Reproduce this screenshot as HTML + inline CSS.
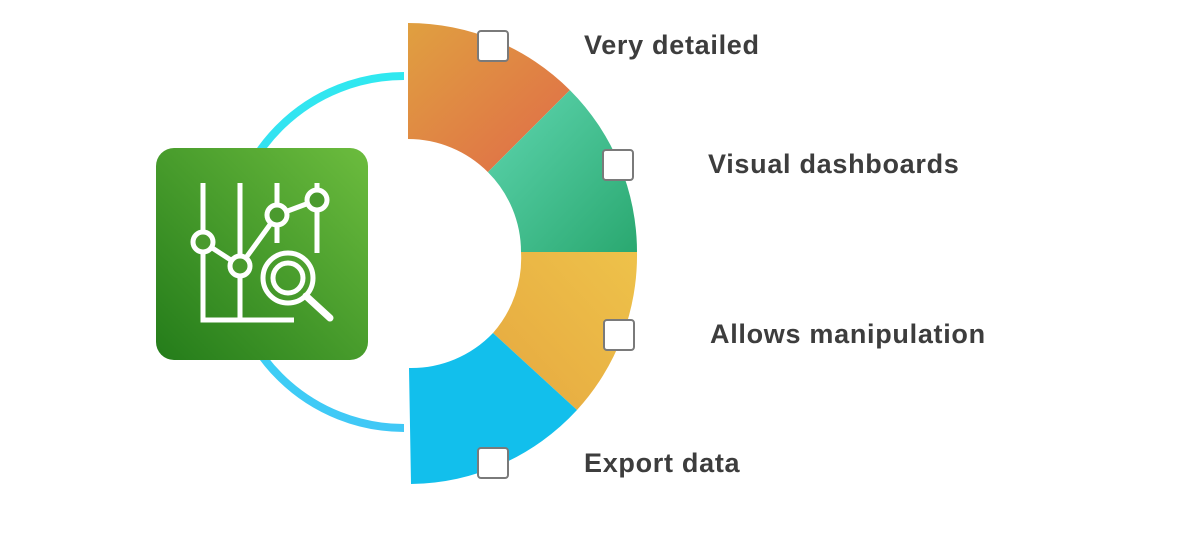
<!DOCTYPE html>
<html><head><meta charset="utf-8"><style>
body{margin:0;width:1186px;height:558px;background:#fff;overflow:hidden;position:relative;font-family:"Liberation Sans",sans-serif}
.t{position:absolute;font-weight:bold;font-size:27px;letter-spacing:0.7px;color:#3d3d3d;white-space:nowrap}
.cb{position:absolute;width:32px;height:32px;border:2px solid #7a7a7a;border-radius:4px;background:#fff;box-sizing:border-box}
</style></head><body>
<svg width="1186" height="558" style="position:absolute;left:0;top:0">
<defs>
<linearGradient id="g1" x1="0" y1="0" x2="1" y2="1"><stop offset="0" stop-color="#e0a040"/><stop offset="1" stop-color="#e06a48"/></linearGradient>
<linearGradient id="g2" x1="0" y1="0" x2="1" y2="1"><stop offset="0" stop-color="#5fd6b0"/><stop offset="1" stop-color="#2aa870"/></linearGradient>
<linearGradient id="g3" x1="1" y1="0" x2="0" y2="1"><stop offset="0" stop-color="#eec24a"/><stop offset="1" stop-color="#e6a840"/></linearGradient>
<linearGradient id="gc" x1="0" y1="0" x2="0" y2="1"><stop offset="0" stop-color="#30e8f0"/><stop offset="1" stop-color="#40c8f6"/></linearGradient>
<linearGradient id="gg" x1="1" y1="0" x2="0" y2="1"><stop offset="0" stop-color="#6cbc3e"/><stop offset="1" stop-color="#247c1a"/></linearGradient>
</defs>
<path d="M404,76 A176 176 0 0 0 404,428" fill="none" stroke="url(#gc)" stroke-width="8"/>
<path d="M408,23 A229 229 0 0 1 569.9,90.1 L487.9,172.1 A113 113 0 0 0 408,139 Z" fill="url(#g1)"/>
<path d="M569.9,90.1 A229 229 0 0 1 637,252 L521,252 A113 113 0 0 0 487.9,172.1 Z" fill="url(#g2)"/>
<path d="M637,252 A229 229 0 0 1 577,410 L493,333 A113 113 0 0 0 521,252 Z" fill="url(#g3)"/>
<path d="M577,410 A229 229 0 0 1 411,484 L409,368 A113 113 0 0 0 493,333 Z" fill="#12bfec"/>
<rect x="156" y="148" width="212" height="212" rx="18" fill="url(#gg)"/>
<g fill="none" stroke="#fff" stroke-width="5">
<path d="M203,183 V320 H294"/>
<path d="M240,183 V320"/>
<path d="M277,183 V243"/>
<path d="M317,183 V253"/>
<path d="M203,242 L240,266 L277,215 L317,200"/>
<circle cx="288" cy="278" r="25"/>
<circle cx="288" cy="278" r="15"/>
<path d="M306,296 L330,318" stroke-width="7" stroke-linecap="round"/>
</g>
<g fill="#4a9a2e" stroke="#fff" stroke-width="5">
<circle cx="203" cy="242" r="10"/><circle cx="240" cy="266" r="10"/><circle cx="277" cy="215" r="10"/><circle cx="317" cy="200" r="10"/>
</g>
</svg>
<div class="cb" style="left:477px;top:30px"></div>
<div class="cb" style="left:602px;top:149px"></div>
<div class="cb" style="left:603px;top:319px"></div>
<div class="cb" style="left:477px;top:447px"></div>
<div class="t" style="left:584px;top:30px">Very detailed</div>
<div class="t" style="left:708px;top:149px">Visual dashboards</div>
<div class="t" style="left:710px;top:319px">Allows manipulation</div>
<div class="t" style="left:584px;top:448px">Export data</div>
</body></html>
